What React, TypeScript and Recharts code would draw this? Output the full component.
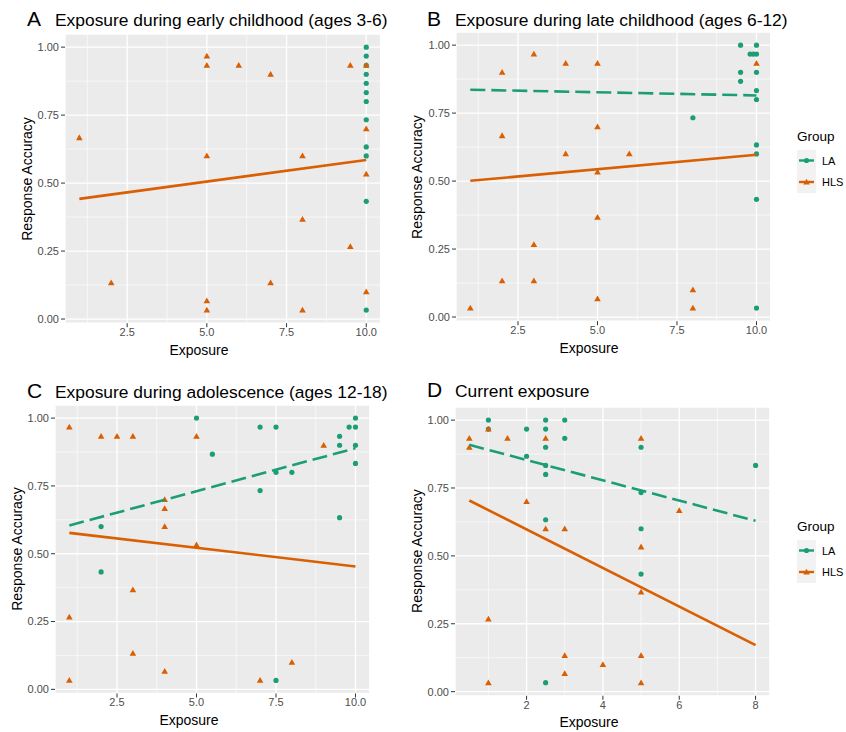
import React from 'react';
import { ScatterChart, Scatter, XAxis, YAxis, CartesianGrid, ReferenceLine } from 'recharts';

const GREEN = '#1b9e77';
const ORANGE = '#d95f02';
const FONT = '"Liberation Sans", Arial, Helvetica, sans-serif';

// axis breaks
const yTicks = [0, 0.25, 0.5, 0.75, 1];
const yMinor = [0.125, 0.375, 0.625, 0.875];
const xTicks10 = [2.5, 5, 7.5, 10];
const xMinor10 = [1.25, 3.75, 6.25, 8.75];
const xTicksD = [2, 4, 6, 8];
const xMinorD = [1, 3, 5, 7];

// A: early childhood
const aLA = [
  { x: 10, y: 1.0 }, { x: 10, y: 0.967 }, { x: 10, y: 0.933 }, { x: 10, y: 0.9 }, { x: 10, y: 0.867 },
  { x: 10, y: 0.833 }, { x: 10, y: 0.8 }, { x: 10, y: 0.733 }, { x: 10, y: 0.633 }, { x: 10, y: 0.6 },
  { x: 10, y: 0.433 }, { x: 10, y: 0.033 },
];
const aHLS = [
  { x: 1, y: 0.667 }, { x: 2, y: 0.133 }, { x: 5, y: 0.967 }, { x: 5, y: 0.933 }, { x: 5, y: 0.6 },
  { x: 5, y: 0.067 }, { x: 5, y: 0.033 }, { x: 6, y: 0.933 }, { x: 7, y: 0.9 }, { x: 7, y: 0.133 },
  { x: 8, y: 0.6 }, { x: 8, y: 0.367 }, { x: 8, y: 0.033 }, { x: 9.5, y: 0.933 }, { x: 9.5, y: 0.267 },
  { x: 10, y: 0.933 }, { x: 10, y: 0.7 }, { x: 10, y: 0.533 }, { x: 10, y: 0.1 },
];
const aFitHLS = [{ x: 1, y: 0.442 }, { x: 10, y: 0.585 }];

// B: late childhood
const bLA = [
  { x: 9.5, y: 1.0 }, { x: 9.5, y: 0.9 }, { x: 9.5, y: 0.867 }, { x: 8, y: 0.733 }, { x: 10, y: 1.0 },
  { x: 9.8, y: 0.967 }, { x: 9.9, y: 0.967 }, { x: 10, y: 0.967 }, { x: 10, y: 0.9 }, { x: 10, y: 0.833 },
  { x: 10, y: 0.8 }, { x: 10, y: 0.633 }, { x: 10, y: 0.6 }, { x: 10, y: 0.433 }, { x: 10, y: 0.033 },
];
const bHLS = [
  { x: 1, y: 0.033 }, { x: 2, y: 0.9 }, { x: 2, y: 0.667 }, { x: 2, y: 0.133 }, { x: 3, y: 0.967 },
  { x: 3, y: 0.267 }, { x: 3, y: 0.133 }, { x: 4, y: 0.933 }, { x: 4, y: 0.6 }, { x: 5, y: 0.933 },
  { x: 5, y: 0.7 }, { x: 5, y: 0.533 }, { x: 5, y: 0.367 }, { x: 5, y: 0.067 }, { x: 6, y: 0.6 },
  { x: 8, y: 0.1 }, { x: 8, y: 0.033 }, { x: 10, y: 0.933 },
];
const bFitLA = [{ x: 1, y: 0.836 }, { x: 10, y: 0.815 }];
const bFitHLS = [{ x: 1, y: 0.501 }, { x: 10, y: 0.597 }];

// C: adolescence
const cLA = [
  { x: 2, y: 0.6 }, { x: 2, y: 0.433 }, { x: 5, y: 1.0 }, { x: 5.5, y: 0.867 }, { x: 7, y: 0.967 },
  { x: 7, y: 0.733 }, { x: 7.5, y: 0.967 }, { x: 7.5, y: 0.8 }, { x: 7.5, y: 0.033 }, { x: 8, y: 0.8 },
  { x: 9.5, y: 0.933 }, { x: 9.5, y: 0.9 }, { x: 9.5, y: 0.633 }, { x: 9.8, y: 0.967 }, { x: 10, y: 1.0 },
  { x: 10, y: 0.967 }, { x: 10, y: 0.9 }, { x: 10, y: 0.833 },
];
const cHLS = [
  { x: 1, y: 0.967 }, { x: 1, y: 0.267 }, { x: 1, y: 0.033 }, { x: 2, y: 0.933 }, { x: 2.5, y: 0.933 },
  { x: 3, y: 0.933 }, { x: 3, y: 0.367 }, { x: 3, y: 0.133 }, { x: 4, y: 0.7 }, { x: 4, y: 0.667 },
  { x: 4, y: 0.6 }, { x: 4, y: 0.067 }, { x: 5, y: 0.933 }, { x: 5, y: 0.533 }, { x: 7, y: 0.033 },
  { x: 8, y: 0.1 }, { x: 9, y: 0.9 },
];
const cFitLA = [{ x: 1, y: 0.604 }, { x: 10, y: 0.889 }];
const cFitHLS = [{ x: 1, y: 0.577 }, { x: 10, y: 0.453 }];

// D: current
const dLA = [
  { x: 1, y: 1.0 }, { x: 1, y: 0.967 }, { x: 2, y: 0.967 }, { x: 2, y: 0.867 }, { x: 2.5, y: 1.0 },
  { x: 2.5, y: 0.967 }, { x: 2.5, y: 0.9 }, { x: 2.5, y: 0.833 }, { x: 2.5, y: 0.8 }, { x: 2.5, y: 0.633 },
  { x: 2.5, y: 0.033 }, { x: 3, y: 1.0 }, { x: 3, y: 0.933 }, { x: 5, y: 0.9 }, { x: 5, y: 0.733 },
  { x: 5, y: 0.6 }, { x: 5, y: 0.433 }, { x: 8, y: 0.833 },
];
const dHLS = [
  { x: 0.5, y: 0.933 }, { x: 0.5, y: 0.9 }, { x: 1, y: 0.967 }, { x: 1, y: 0.267 }, { x: 1, y: 0.033 },
  { x: 1.5, y: 0.933 }, { x: 2, y: 0.7 }, { x: 2.5, y: 0.933 }, { x: 2.5, y: 0.6 }, { x: 3, y: 0.6 },
  { x: 3, y: 0.133 }, { x: 3, y: 0.067 }, { x: 4, y: 0.1 }, { x: 5, y: 0.933 }, { x: 5, y: 0.533 },
  { x: 5, y: 0.367 }, { x: 5, y: 0.133 }, { x: 5, y: 0.033 }, { x: 6, y: 0.667 },
];
const dFitLA = [{ x: 0.5, y: 0.909 }, { x: 8, y: 0.629 }];
const dFitHLS = [{ x: 0.5, y: 0.704 }, { x: 8, y: 0.171 }];

const yDomain = [-0.0153, 1.0483];

const Dot = (p: any) => <circle cx={p.cx} cy={p.cy} r={2.6} fill={GREEN} />;
const Tri = (p: any) => {
  const { cx, cy } = p;
  const s = 3.3;
  return <path d={`M${cx},${cy - s}L${cx + s},${cy + s * 0.75}L${cx - s},${cy + s * 0.75}Z`} fill={ORANGE} />;
};
const NoShape = () => <g />;

const tickStyle = { fill: '#4d4d4d', fontSize: 11, fontFamily: FONT };

function Panel(props: any) {
  const { left, top, w, h, xDomain, xTicks, xMinor, la, hls, fitLA, fitHLS, fmt } = props;
  return (
    <div style={{ position: 'absolute', left: left - 60, top: top - 5 }}>
      <ScatterChart width={60 + w + 5} height={5 + h + 40} margin={{ top: 5, right: 5, bottom: 0, left: 0 }}>
        <CartesianGrid fill="#ebebeb" stroke="#ffffff" strokeWidth={1.3} />
        {xMinor.map((v: number) => (
          <ReferenceLine key={'x' + v} x={v} stroke="#ffffff" strokeWidth={0.6} zIndex={-50} />
        ))}
        {yMinor.map((v: number) => (
          <ReferenceLine key={'y' + v} y={v} stroke="#ffffff" strokeWidth={0.6} zIndex={-50} />
        ))}
        <XAxis
          type="number"
          dataKey="x"
          domain={xDomain}
          ticks={xTicks}
          interval={0}
          allowDataOverflow
          tickFormatter={fmt}
          axisLine={false}
          tickLine={{ stroke: '#333333' }}
          tickSize={4}
          tickMargin={1}
          tick={tickStyle}
          height={40}
        />
        <YAxis
          type="number"
          dataKey="y"
          domain={yDomain}
          ticks={yTicks}
          interval={0}
          allowDataOverflow
          tickFormatter={(v: number) => v.toFixed(2)}
          axisLine={false}
          tickLine={{ stroke: '#333333' }}
          tickSize={4}
          tickMargin={2}
          tick={tickStyle}
          width={60}
        />
        {la && <Scatter data={la} fill={GREEN} shape={Dot} isAnimationActive={false} />}
        <Scatter data={hls} fill={ORANGE} shape={Tri} isAnimationActive={false} />
        {fitLA && (
          <Scatter
            data={fitLA}
            fill={GREEN}
            line={{ stroke: GREEN, strokeWidth: 2.6, strokeDasharray: '15 6' }}
            shape={NoShape}
            isAnimationActive={false}
          />
        )}
        <Scatter
          data={fitHLS}
          fill={ORANGE}
          line={{ stroke: ORANGE, strokeWidth: 2.6 }}
          shape={NoShape}
          isAnimationActive={false}
        />
      </ScatterChart>
    </div>
  );
}

const fmt1 = (v: number) => v.toFixed(1);
const fmt0 = (v: number) => String(v);

function Legend({ x, y }: { x: number; y: number }) {
  return (
    <g fontFamily={FONT}>
      <text x={x} y={y} fontSize={13.5} fill="#000">Group</text>
      <rect x={x} y={y + 9} width={19} height={43} fill="#f2f2f2" />
      <line x1={x + 2} x2={x + 17} y1={y + 19.5} y2={y + 19.5} stroke={GREEN} strokeWidth={2.4} />
      <circle cx={x + 9.5} cy={y + 19.5} r={2.6} fill={GREEN} />
      <line x1={x + 2} x2={x + 17} y1={y + 41} y2={y + 41} stroke={ORANGE} strokeWidth={2.4} />
      <path d={`M${x + 9.5},${y + 37.7}L${x + 12.8},${y + 43.5}L${x + 6.2},${y + 43.5}Z`} fill={ORANGE} />
      <text x={x + 25} y={y + 23.5} fontSize={11} fill="#000">LA</text>
      <text x={x + 25} y={y + 45} fontSize={11} fill="#000">HLS</text>
    </g>
  );
}

function Title({ x, y, letter, text }: { x: number; y: number; letter: string; text: string }) {
  return (
    <g fontFamily={FONT} fill="#000">
      <text x={x} y={y} fontSize={21}>{letter}</text>
      <text x={x + 28} y={y} fontSize={17.4}>{text}</text>
    </g>
  );
}

function AxisTitles({ cx, base, ly, lx }: { cx: number; base: number; ly: number; lx: number }) {
  return (
    <g fontFamily={FONT} fill="#000" fontSize={14}>
      <text x={cx} y={base} textAnchor="middle">Exposure</text>
      <text x={lx} y={ly} textAnchor="middle" transform={`rotate(-90 ${lx} ${ly})`}>Response Accuracy</text>
    </g>
  );
}

export default function App() {
  return (
    <div style={{ position: 'absolute', left: 0, top: 0, width: 846, height: 732, background: '#fff' }}>
      <Panel left={65.4} top={34.2} w={315.6} h={289.2} xDomain={[0.55, 10.45]} xTicks={xTicks10} xMinor={xMinor10}
        la={aLA} hls={aHLS} fitHLS={aFitHLS} fmt={fmt1} />
      <Panel left={455.5} top={32.2} w={314.8} h={289.2} xDomain={[0.55, 10.45]} xTicks={xTicks10} xMinor={xMinor10}
        la={bLA} hls={bHLS} fitLA={bFitLA} fitHLS={bFitHLS} fmt={fmt1} />
      <Panel left={55.2} top={404.9} w={314.8} h={288.5} xDomain={[0.55, 10.45]} xTicks={xTicks10} xMinor={xMinor10}
        la={cLA} hls={cHLS} fitLA={cFitLA} fitHLS={cFitHLS} fmt={fmt1} />
      <Panel left={455.4} top={406.6} w={314.9} h={288.8} xDomain={[0.125, 8.375]} xTicks={xTicksD} xMinor={xMinorD}
        la={dLA} hls={dHLS} fitLA={dFitLA} fitHLS={dFitHLS} fmt={fmt0} />
      <svg width={846} height={732} style={{ position: 'absolute', left: 0, top: 0, pointerEvents: 'none' }}>
        <Title x={27} y={26} letter="A" text="Exposure during early childhood (ages 3-6)" />
        <Title x={427} y={26} letter="B" text="Exposure during late childhood (ages 6-12)" />
        <Title x={27} y={398} letter="C" text="Exposure during adolescence (ages 12-18)" />
        <Title x={427} y={397} letter="D" text="Current exposure" />
        <AxisTitles cx={199} base={355} lx={32} ly={179} />
        <AxisTitles cx={589} base={353} lx={422} ly={177} />
        <AxisTitles cx={189} base={725} lx={22} ly={549} />
        <AxisTitles cx={589} base={727} lx={422} ly={551} />
        <Legend x={797} y={141} />
        <Legend x={797} y={531} />
      </svg>
    </div>
  );
}
